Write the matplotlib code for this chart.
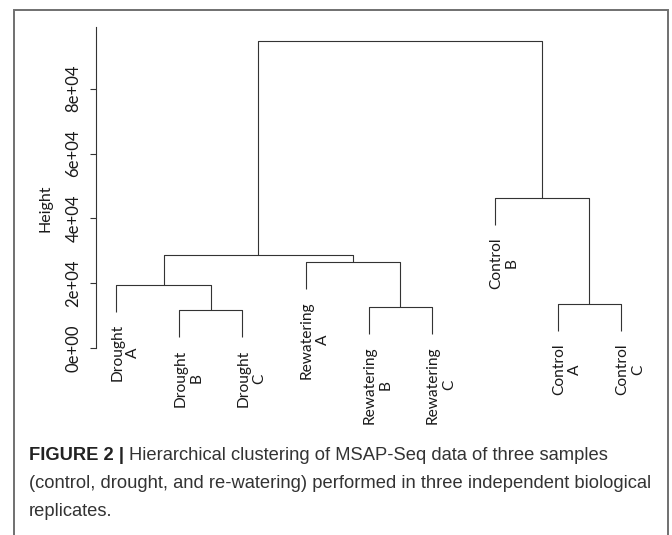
import matplotlib
matplotlib.use("Agg")
import matplotlib.pyplot as plt
from matplotlib.patches import Rectangle

# ---- data ----
leaf_groups = ["Drought", "Drought", "Drought", "Rewatering", "Rewatering", "Rewatering",
               "Control", "Control", "Control"]
leaf_reps = ["A", "B", "C", "A", "B", "C", "B", "A", "C"]
# merges: (left, right, height); negative = leaf index (1-based, in plotted order), positive = earlier merge
merge_left = [-2, -5, -8, -1, -4, 4, -7, 6]
merge_right = [-3, -6, -9, 1, 2, 5, 3, 7]
merge_height = [11630, 12750, 13490, 19530, 26540, 28600, 46190, 94800]
hang = 8300
yticks = [0, 20000, 40000, 60000, 80000]
ytick_labels = ["0e+00", "2e+04", "4e+04", "6e+04", "8e+04"]

W, H = 672, 535
fig = plt.figure(figsize=(W / 100, H / 100), dpi=100)

# outer frame
fig.add_artist(Rectangle((14 / W, -0.02), (668 - 14) / W, (H - 10) / H + 0.02,
                         transform=fig.transFigure, fill=False, edgecolor="#707070", linewidth=1.4))

px_leaf = (621.0 - 116.3) / 8.0
left_px = 116.3 - 0.32 * px_leaf
right_px = 621.0 + 0.32 * px_leaf
scale = (348.0 - 88.7) / 80000.0  # px per unit
ymin, ymax = -10000, 100000
bottom_px = 348.0 + (0 - ymin) * scale
top_px = 348.0 - (ymax - 0) * scale
ax = fig.add_axes([left_px / W, 1 - bottom_px / H, (right_px - left_px) / W, (bottom_px - top_px) / H])
ax.set_xlim(0.68, 9.32)
ax.set_ylim(ymin, ymax)
ax.patch.set_alpha(0)

lc = "#333333"
lw = 0.8
pos = {}
hts = {}
for i in range(len(leaf_groups)):
    pos[-(i + 1)] = i + 1.0

for m, (a, b, h) in enumerate(zip(merge_left, merge_right, merge_height), start=1):
    xa, xb = pos[a], pos[b]
    ya = hts[a] if a > 0 else h - hang
    yb = hts[b] if b > 0 else h - hang
    ax.plot([xa, xa, xb, xb], [ya, h, h, yb], color=lc, lw=lw, solid_capstyle="butt")
    pos[m] = (xa + xb) / 2
    hts[m] = h

# leaf labels
label_font = ["Lato", "DejaVu Sans"]
leaf_end = {}
for m, (a, b, h) in enumerate(zip(merge_left, merge_right, merge_height), start=1):
    for k in (a, b):
        if k < 0:
            leaf_end[-k - 1] = h - hang
for i, (g, r) in enumerate(zip(leaf_groups, leaf_reps)):
    ax.annotate(g + "\n" + r, xy=(i + 1, leaf_end[i]), xytext=(6.5, -9.0), textcoords="offset points",
                rotation=90, ha="center", va="top", multialignment="center",
                fontsize=11.2, family=label_font, color="#1a1a1a", linespacing=1.2,
                annotation_clip=False)

# axes styling
for s in ("top", "right", "bottom"):
    ax.spines[s].set_visible(False)
ax.spines["left"].set_bounds(0, 99000)
ax.spines["left"].set_color(lc)
ax.spines["left"].set_linewidth(lw)
ax.set_xticks([])
ax.set_yticks(yticks)
ax.set_yticklabels(ytick_labels)
ax.tick_params(axis="y", length=4.5, width=lw, color=lc, pad=6, labelsize=12, labelcolor="#1a1a1a")
for t in ax.get_yticklabels():
    t.set_rotation(90)
    t.set_va("center")
    t.set_family(label_font)
ax.set_ylabel("Height", family=label_font, fontsize=11.5, color="#1a1a1a")
ax.yaxis.set_label_coords(-(96.1 - 52) / (right_px - left_px), (43000 - ymin) / (ymax - ymin))

# caption
cap_font = ["Liberation Sans", "DejaVu Sans"]
cap_color = "#333333"
cap_size = 13.2
t1 = fig.text(29 / W, 1 - 455 / H, "FIGURE 2 | ", fontsize=cap_size, fontweight="bold", family=cap_font,
              color="#222222", va="center", ha="left")
fig.canvas.draw()
bb = t1.get_window_extent()
fig.text(bb.x1 / W, 1 - 455 / H, "Hierarchical clustering of MSAP-Seq data of three samples",
         fontsize=cap_size, family=cap_font, color=cap_color, va="center", ha="left")
fig.text(29 / W, 1 - 484 / H,
         "(control, drought, and re-watering) performed in three independent biological",
         fontsize=cap_size, family=cap_font, color=cap_color, va="center", ha="left")
fig.text(29 / W, 1 - 512 / H, "replicates.", fontsize=cap_size, family=cap_font, color=cap_color,
         va="center", ha="left")

fig.savefig("out.png", dpi=100)
